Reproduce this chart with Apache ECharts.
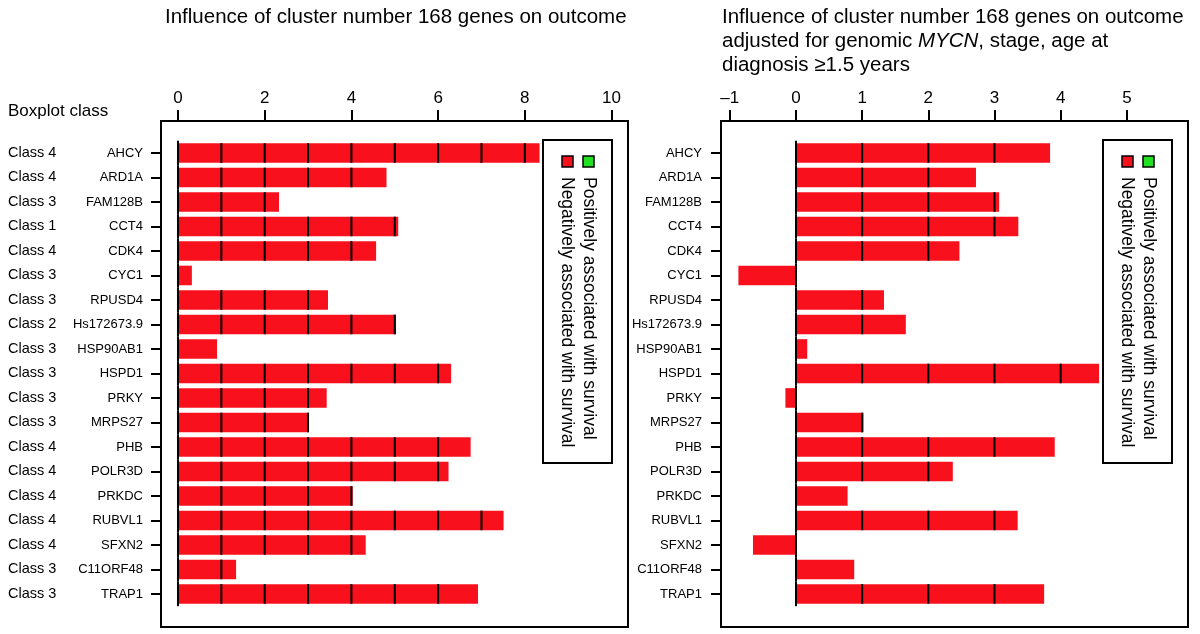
<!DOCTYPE html>
<html>
<head>
<meta charset="utf-8">
<script src="https://cdn.jsdelivr.net/npm/echarts@6/dist/echarts.min.js"></script>
<style>
  html, body { margin: 0; padding: 0; background: #fff; }
  #chart { width: 1200px; height: 634px; }
</style>
</head>
<body>
<div id="chart"></div>
<script>
// genes in cluster 168, top to bottom
const genes = ['AHCY', 'ARD1A', 'FAM128B', 'CCT4', 'CDK4', 'CYC1', 'RPUSD4', 'Hs172673.9', 'HSP90AB1',
  'HSPD1', 'PRKY', 'MRPS27', 'PHB', 'POLR3D', 'PRKDC', 'RUBVL1', 'SFXN2', 'C11ORF48', 'TRAP1']
const boxplotClass = ['Class 4', 'Class 4', 'Class 3', 'Class 1', 'Class 4', 'Class 3', 'Class 3', 'Class 2', 'Class 3',
  'Class 3', 'Class 3', 'Class 3', 'Class 4', 'Class 4', 'Class 4', 'Class 4', 'Class 4', 'Class 3', 'Class 3']
// left panel: unadjusted influence
const influence = [8.34, 4.81, 2.33, 5.08, 4.57, 0.32, 3.46, 5.03, 0.9,
  6.3, 3.43, 3.02, 6.75, 6.24, 4.03, 7.51, 4.33, 1.34, 6.92]
// right panel: adjusted for MYCN, stage, age
const adjusted = [3.84, 2.72, 3.07, 3.36, 2.47, -0.87, 1.33, 1.66, 0.17,
  4.58, -0.16, 1.02, 3.91, 2.37, 0.78, 3.35, -0.65, 0.88, 3.75]
const leftTicks = [0, 2, 4, 6, 8, 10]
const rightTicks = [-1, 0, 1, 2, 3, 4, 5]

const RED = '#f9101d'
const GREEN = '#22e022'
const FONT = "'Liberation Sans', Arial, sans-serif"
const rows = genes.map((g, i) => i)

const chart = echarts.init(document.getElementById('chart'))

const renderBars = (params, api) => {
  const v = api.value(0)
  const i = api.value(1)
  const band = Math.abs(api.size([0, 1])[1])
  const h = band * 0.8
  const p0 = api.coord([0, i])
  const p1 = api.coord([v, i])
  const children = [{
    type: 'rect',
    shape: { x: Math.min(p0[0], p1[0]), y: p0[1] - h / 2, width: Math.abs(p1[0] - p0[0]), height: h },
    style: { fill: RED }
  }]
  // black marks at each whole unit inside positive bars
  for (let k = 1; k <= v; k++) {
    const pk = api.coord([k, i])
    children.push({
      type: 'line',
      shape: { x1: pk[0], y1: p0[1] - h / 2, x2: pk[0], y2: p0[1] + h / 2 },
      style: { stroke: '#000', lineWidth: 2 }
    })
  }
  // zero line
  children.push({
    type: 'line',
    shape: { x1: p0[0], y1: p0[1] - band / 2, x2: p0[0], y2: p0[1] + band / 2 },
    style: { stroke: '#000', lineWidth: 2 }
  })
  return { type: 'group', children }
}

const xAxisFor = (gridIndex, min, max, ticks) => ({
  type: 'value',
  gridIndex,
  position: 'top',
  min,
  max,
  axisLine: { show: false, onZero: false },
  axisTick: { show: true, inside: false, length: 11, customValues: ticks, lineStyle: { color: '#000', width: 2 } },
  axisLabel: { customValues: ticks, color: '#000', fontSize: 17, fontFamily: FONT, margin: 14,
    formatter: v => (v < 0 ? '\u2013' + Math.abs(v) : String(v)) },
  splitLine: { show: false }
})

const yAxisFor = (gridIndex, margin) => ({
  type: 'value',
  gridIndex,
  position: 'left',
  inverse: true,
  min: -1.306,
  max: 19.35,
  axisLine: { show: false, onZero: false },
  axisTick: { show: true, inside: false, length: 10, customValues: rows, lineStyle: { color: '#000', width: 2 } },
  axisLabel: { customValues: rows, color: '#000', fontSize: 13, fontFamily: FONT, margin,
    formatter: v => genes[v] },
  splitLine: { show: false }
})

const legendBox = (left) => {
  const top = 140
  return [
    { type: 'rect', shape: { x: left, y: top, width: 69, height: 323 },
      style: { fill: '#fff', stroke: '#000', lineWidth: 2 }, z: 10 },
    { type: 'rect', shape: { x: left + 19, y: top + 16, width: 11, height: 11 },
      style: { fill: RED, stroke: '#000', lineWidth: 1.5 }, z: 11 },
    { type: 'rect', shape: { x: left + 40, y: top + 16, width: 11, height: 11 },
      style: { fill: GREEN, stroke: '#000', lineWidth: 1.5 }, z: 11 },
    { type: 'text', x: left + 46, y: top + 37, rotation: -Math.PI / 2, z: 11,
      style: { text: 'Positively associated with survival', font: '17.5px ' + FONT, fill: '#000',
        align: 'left', verticalAlign: 'middle' } },
    { type: 'text', x: left + 24, y: top + 37, rotation: -Math.PI / 2, z: 11,
      style: { text: 'Negatively associated with survival', font: '17.5px ' + FONT, fill: '#000',
        align: 'left', verticalAlign: 'middle' } }
  ]
}

const option = {
  animation: false,
  grid: [
    { left: 161, right: 1200 - 628, top: 121, bottom: 634 - 627, show: true, borderColor: '#000', borderWidth: 2 },
    { left: 721, right: 1200 - 1188, top: 121, bottom: 634 - 627, show: true, borderColor: '#000', borderWidth: 2 }
  ],
  xAxis: [
    xAxisFor(0, -0.392, 10.38, leftTicks),
    xAxisFor(1, -1.133, 5.924, rightTicks)
  ],
  yAxis: [
    yAxisFor(0, 18),
    yAxisFor(1, 19),
    {
      type: 'value',
      gridIndex: 0,
      position: 'left',
      inverse: true,
      min: -1.306,
      max: 19.35,
      axisLine: { show: false, onZero: false },
      axisTick: { show: false },
      axisLabel: { customValues: rows, color: '#000', fontSize: 14.5, fontFamily: FONT, margin: 153,
        align: 'left', formatter: v => boxplotClass[v] },
      splitLine: { show: false }
    }
  ],
  series: [
    {
      type: 'custom',
      xAxisIndex: 0,
      yAxisIndex: 0,
      renderItem: renderBars,
      data: influence.map((v, i) => [v, i])
    },
    {
      type: 'custom',
      xAxisIndex: 1,
      yAxisIndex: 1,
      renderItem: renderBars,
      data: adjusted.map((v, i) => [v, i])
    }
  ],
  graphic: [
    { type: 'text', x: 165, y: 17,
      style: { text: 'Influence of cluster number 168 genes on outcome', font: '20.5px ' + FONT, fill: '#000',
        verticalAlign: 'middle' } },
    { type: 'text', x: 722, y: 5,
      style: {
        text: 'Influence of cluster number 168 genes on outcome\nadjusted for genomic {it|MYCN}, stage, age at\ndiagnosis \u22651.5 years',
        font: '20.5px ' + FONT, fill: '#000', lineHeight: 24, verticalAlign: 'top',
        rich: { it: { fontStyle: 'italic', fontSize: 20.5, fontFamily: FONT, lineHeight: 24 } }
      } },
    { type: 'text', x: 8, y: 111,
      style: { text: 'Boxplot class', font: '17px ' + FONT, fill: '#000', verticalAlign: 'middle' } },
    ...legendBox(543),
    ...legendBox(1103)
  ]
}

chart.setOption(option)
window.addEventListener('resize', () => chart.resize())
</script>
</body>
</html>
